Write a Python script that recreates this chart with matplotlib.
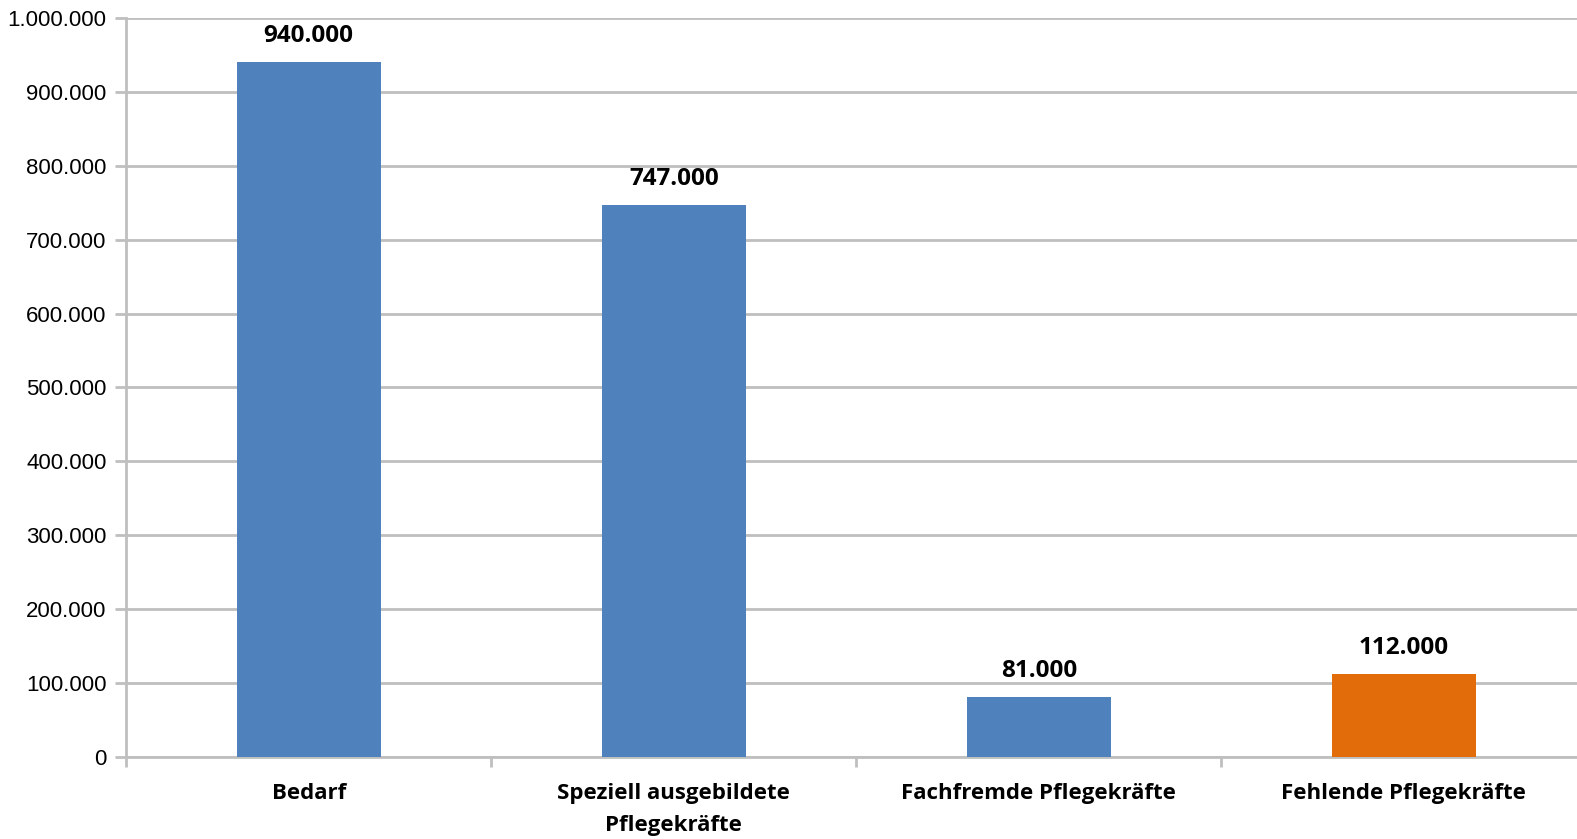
import matplotlib.pyplot as plt
from matplotlib.ticker import FuncFormatter

categories = ["Bedarf", "Speziell ausgebildete\nPflegekräfte",
              "Fachfremde Pflegekräfte", "Fehlende Pflegekräfte"]
values = [940000, 747000, 81000, 112000]
colors = ["#4F81BD", "#4F81BD", "#4F81BD", "#E36C0A"]

GRID = "#BFBFBF"
LABEL_FONT = "Open Sans"


def de_format(v, pos=None):
    return f"{int(v):,}".replace(",", ".")


fig = plt.figure(figsize=(15.77, 8.39), dpi=100)
ax = fig.add_axes([0.080, 0.098, 0.926, 0.8805])

x = range(len(categories))
ax.bar(x, values, width=0.395, color=colors, zorder=3)

for i, v in enumerate(values):
    ax.annotate(de_format(v), (i, v), xytext=(0, 10), textcoords="offset points",
                ha="center", va="bottom", fontsize=17.5, fontweight="bold",
                family=LABEL_FONT, color="#000000")

ax.set_ylim(0, 1000000)
ax.set_xlim(-0.5, len(categories) - 0.5)
ax.set_yticks(range(0, 1000001, 100000))
ax.yaxis.set_major_formatter(FuncFormatter(de_format))
ax.grid(axis="y", color=GRID, linewidth=2, zorder=0)

# category boundaries get the tick marks, names sit on minor ticks in between
ax.set_xticks([i - 0.5 for i in range(len(categories) + 1)])
ax.set_xticklabels([])
ax.set_xticks(list(x), minor=True)
ax.set_xticklabels(categories, minor=True, fontsize=16, fontweight="bold",
                   family=LABEL_FONT, linespacing=1.7)
ax.tick_params(axis="x", which="minor", length=0, pad=19)
ax.tick_params(axis="x", which="major", length=7, width=2, color=GRID)
ax.tick_params(axis="y", length=8, width=2, color=GRID, pad=6)
for lbl in ax.get_yticklabels():
    lbl.set_family("Liberation Sans")
    lbl.set_fontsize(16)

for side in ["top", "right"]:
    ax.spines[side].set_visible(False)
ax.spines["left"].set_color(GRID)
ax.spines["left"].set_linewidth(2)
ax.spines["bottom"].set_color(GRID)
ax.spines["bottom"].set_linewidth(2)

fig.savefig("out.png", dpi=100)
